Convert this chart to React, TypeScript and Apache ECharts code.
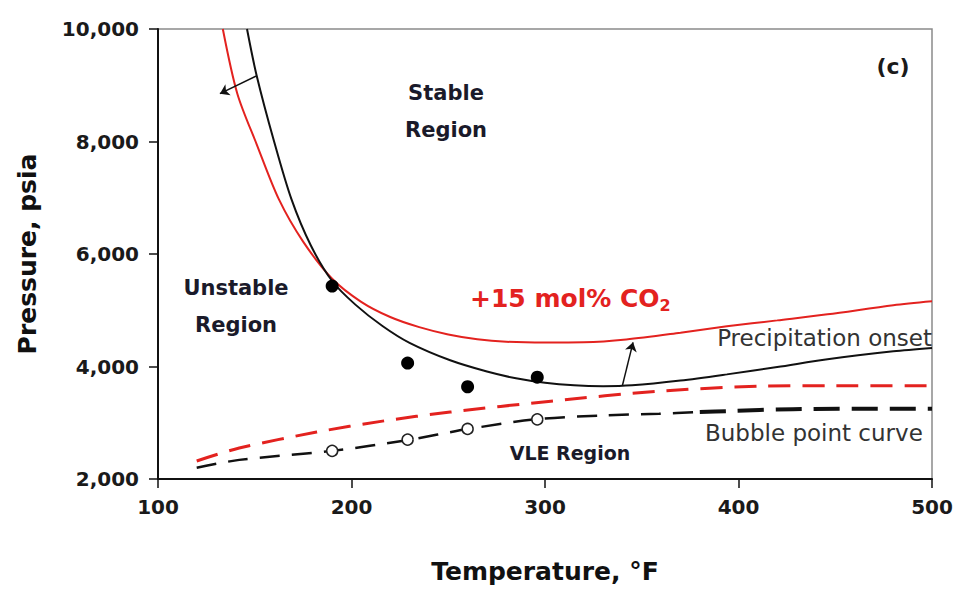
import React, { useEffect, useRef } from "react";
import * as echarts from "echarts";

// Precipitation onset (original oil)
const onsetT = [146, 151, 160, 169, 179, 190, 202, 216, 230, 251, 270, 285, 300, 315, 330, 345, 370, 394, 420, 446, 480, 500];
const onsetP = [10000, 9170, 8000, 6970, 6150, 5520, 5100, 4720, 4420, 4110, 3910, 3790, 3710, 3665, 3650, 3665, 3750, 3860, 3990, 4130, 4270, 4330];
// Precipitation onset +15 mol% CO2
const co2OnsetT = [133.5, 141, 151, 162.5, 175, 190, 205, 220, 235, 250, 265, 280, 300, 320, 342, 370, 394, 420, 446, 480, 500];
const co2OnsetP = [10000, 8850, 7950, 6970, 6220, 5560, 5150, 4880, 4700, 4570, 4485, 4440, 4425, 4430, 4480, 4600, 4714, 4820, 4927, 5090, 5160];
// Bubble point +15 mol% CO2
const co2BubbleT = [120, 142, 182, 216, 251, 303, 359, 411, 450, 500];
const co2BubbleP = [2320, 2550, 2834, 3029, 3190, 3384, 3561, 3650, 3660, 3660];
// Bubble point curve (original)
const bubbleT = [120, 142, 190, 229, 260, 296, 330, 359, 380];
const bubbleP = [2200, 2340, 2500, 2692, 2887, 3064, 3130, 3160, 3190];
const bubbleT2 = [380, 394, 428, 500];
const bubbleP2 = [3190, 3206, 3242, 3250];
// Measured asphaltene onset points
const measOnsetT = [190, 229, 260, 296];
const measOnsetP = [5430, 4060, 3640, 3810];
// Measured bubble points
const measBubbleT = [190, 229, 260, 296];
const measBubbleP = [2500, 2700, 2890, 3060];
// Arrows (data coordinates)
const arrowTop = [[151.2, 9170], [132, 8850]];
const arrowBottom = [[340, 3660], [345.5, 4430]];

const xTicks = [100, 200, 300, 400, 500];
const yTicks = [2000, 4000, 6000, 8000, 10000];

const zip = (a: number[], b: number[]) => a.map((v, i) => [v, b[i]]);

const RED = "#e3221f";
const FONT = "DejaVu Sans";

export default function App() {
  const ref = useRef<HTMLDivElement>(null);
  useEffect(() => {
    if (!ref.current) return;
    const chart = echarts.init(ref.current, null, { renderer: "svg" });
    const arrowLine = (pts: number[][]) => ({
      silent: true,
      symbol: ["none", "arrow"],
      symbolSize: 9,
      label: { show: false },
      lineStyle: { color: "#111", width: 1.5, type: "solid" },
      data: [[{ coord: pts[0] }, { coord: pts[1] }]],
    });
    const lineBase = {
      type: "line",
      smooth: 0.3,
      showSymbol: false,
      clip: true,
    };
    chart.setOption({
      animation: false,
      backgroundColor: "#fff",
      grid: {
        left: 158,
        right: 28,
        top: 29,
        bottom: 109,
        show: true,
        borderColor: "#8a8a8a",
        borderWidth: 1.5,
      },
      xAxis: {
        type: "value",
        min: xTicks[0],
        max: xTicks[xTicks.length - 1],
        interval: 100,
        name: "Temperature, °F",
        nameLocation: "middle",
        nameGap: 80,
        nameTextStyle: { fontFamily: FONT, fontWeight: "bold", fontSize: 25, color: "#111" },
        axisLine: { lineStyle: { color: "#111", width: 2 } },
        axisTick: { length: 9, lineStyle: { color: "#111", width: 1.5 } },
        axisLabel: { fontFamily: FONT, fontWeight: "bold", fontSize: 20, color: "#1a1a1a", margin: 18 },
        splitLine: { show: false },
      },
      yAxis: {
        type: "value",
        min: yTicks[0],
        max: yTicks[yTicks.length - 1],
        interval: 2000,
        name: "Pressure, psia",
        nameLocation: "middle",
        nameGap: 118,
        nameTextStyle: { fontFamily: FONT, fontWeight: "bold", fontSize: 25, color: "#111" },
        axisLine: { lineStyle: { color: "#111", width: 2 } },
        axisTick: { length: 9, lineStyle: { color: "#111", width: 1.5 } },
        axisLabel: {
          fontFamily: FONT,
          fontWeight: "bold",
          fontSize: 20,
          color: "#1a1a1a",
          margin: 19,
          formatter: (v: number) => v.toLocaleString("en-US"),
        },
        splitLine: { show: false },
      },
      series: [
        {
          ...lineBase,
          name: "Precipitation onset +15 mol% CO2",
          data: zip(co2OnsetT, co2OnsetP),
          lineStyle: { color: RED, width: 2 },
          z: 3,
        },
        {
          ...lineBase,
          name: "Precipitation onset",
          data: zip(onsetT, onsetP),
          lineStyle: { color: "#111", width: 2 },
          markLine: arrowLine(arrowTop),
          z: 4,
        },
        {
          ...lineBase,
          name: "Bubble point +15 mol% CO2",
          data: zip(co2BubbleT, co2BubbleP),
          lineStyle: { color: RED, width: 3, type: [22, 12] },
          z: 3,
        },
        {
          ...lineBase,
          name: "Bubble point curve",
          data: zip(bubbleT, bubbleP),
          lineStyle: { color: "#111", width: 2.5, type: [20, 12] },
          markLine: arrowLine(arrowBottom),
          z: 3,
        },
        {
          ...lineBase,
          name: "Bubble point curve (high T)",
          data: zip(bubbleT2, bubbleP2),
          lineStyle: { color: "#111", width: 4, type: [26, 12] },
          z: 3,
        },
        {
          name: "Measured onset",
          type: "scatter",
          data: zip(measOnsetT, measOnsetP),
          symbol: "circle",
          symbolSize: 13,
          itemStyle: { color: "#000", opacity: 1 },
          z: 5,
        },
        {
          name: "Measured bubble point",
          type: "scatter",
          data: zip(measBubbleT, measBubbleP),
          symbol: "circle",
          symbolSize: 11,
          itemStyle: { color: "#fff", borderColor: "#222", borderWidth: 1.5, opacity: 1 },
          z: 5,
        },
      ],
      graphic: [
        {
          type: "text",
          x: 446,
          y: 111,
          style: {
            text: "Stable\nRegion",
            fontFamily: FONT,
            fontWeight: "bold",
            fontSize: 21,
            lineHeight: 37,
            fill: "#1a1a2a",
            align: "center",
            verticalAlign: "middle",
          },
        },
        {
          type: "text",
          x: 236,
          y: 306,
          style: {
            text: "Unstable\nRegion",
            fontFamily: FONT,
            fontWeight: "bold",
            fontSize: 21,
            lineHeight: 37,
            fill: "#1a1a2a",
            align: "center",
            verticalAlign: "middle",
          },
        },
        {
          type: "text",
          x: 893,
          y: 66,
          style: {
            text: "(c)",
            fontFamily: FONT,
            fontWeight: "bold",
            fontSize: 22,
            fill: "#1a1a1a",
            align: "center",
            verticalAlign: "middle",
          },
        },
        {
          type: "text",
          x: 470,
          y: 298,
          style: {
            text: "{a|+15 mol% CO}{b|2}",
            align: "left",
            verticalAlign: "middle",
            rich: {
              a: { fontFamily: FONT, fontWeight: "bold", fontSize: 25, fill: RED, color: RED },
              b: { fontFamily: FONT, fontWeight: "bold", fontSize: 16, fill: RED, color: RED, padding: [14, 0, 0, 0] },
            },
          },
        },
        {
          type: "text",
          x: 932,
          y: 338,
          style: {
            text: "Precipitation onset",
            fontFamily: FONT,
            fontSize: 23,
            fill: "#333",
            align: "right",
            verticalAlign: "middle",
          },
        },
        {
          type: "text",
          x: 705,
          y: 433,
          style: {
            text: "Bubble point curve",
            fontFamily: FONT,
            fontSize: 23,
            fill: "#333",
            align: "left",
            verticalAlign: "middle",
          },
        },
        {
          type: "text",
          x: 570,
          y: 453,
          style: {
            text: "VLE Region",
            fontFamily: FONT,
            fontWeight: "bold",
            fontSize: 19,
            fill: "#1a1a2a",
            align: "center",
            verticalAlign: "middle",
          },
        },
      ],
    });
    return () => chart.dispose();
  }, []);
  return (
    <div
      ref={ref}
      style={{ position: "fixed", left: 0, top: 0, width: 960, height: 589, background: "#fff" }}
    />
  );
}
